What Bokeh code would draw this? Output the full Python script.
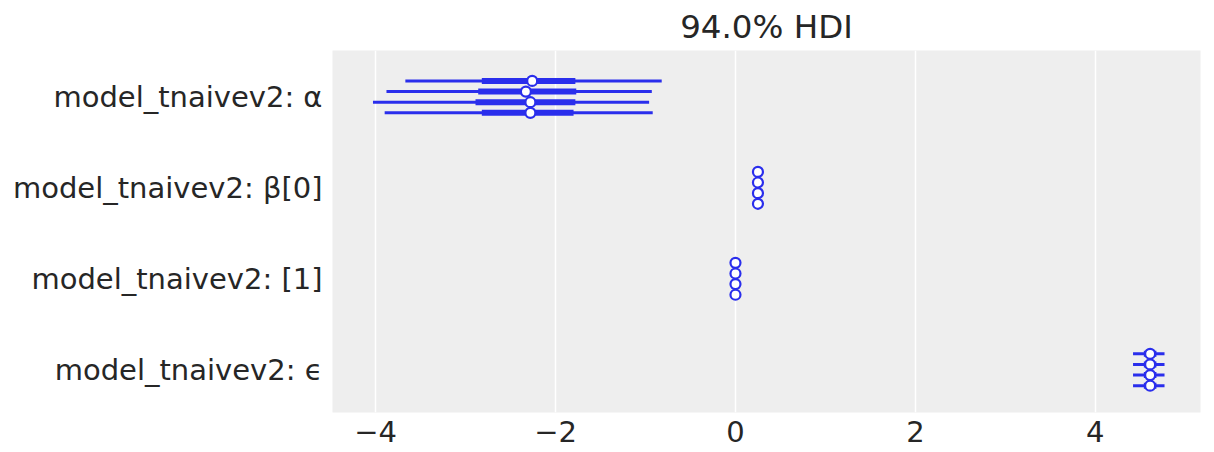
from bokeh.plotting import figure
from bokeh.models import Range1d, FixedTicker, ColumnDataSource
from bokeh.embed import file_html
from bokeh.resources import INLINE

# ---- data ----
labels = ["model_tnaivev2: α", "model_tnaivev2: β[0]", "model_tnaivev2: [1]", "model_tnaivev2: ϵ"]
x_ticks = [-4, -2, 0, 2, 4]
x_tick_labels = ["−4", "−2", "0", "2", "4"]
title_text = "94.0% HDI"

# per variable, 4 chains each
median = [
    [-2.26, -2.33, -2.28, -2.28],
    [0.25, 0.25, 0.25, 0.25],
    [0.0, 0.0, 0.0, 0.0],
    [4.61, 4.61, 4.61, 4.61],
]
hdi94_low = [
    [-3.67, -3.88, -4.03, -3.90],
    [0.22, 0.22, 0.22, 0.22],
    [-0.03, -0.03, -0.03, -0.03],
    [4.42, 4.42, 4.42, 4.42],
]
hdi94_high = [
    [-0.82, -0.93, -0.96, -0.92],
    [0.28, 0.28, 0.28, 0.28],
    [0.03, 0.03, 0.03, 0.03],
    [4.77, 4.77, 4.77, 4.77],
]
hdi50_low = [
    [-2.82, -2.86, -2.89, -2.82],
    [0.24, 0.24, 0.24, 0.24],
    [-0.01, -0.01, -0.01, -0.01],
    [4.54, 4.54, 4.54, 4.54],
]
hdi50_high = [
    [-1.78, -1.77, -1.78, -1.80],
    [0.26, 0.26, 0.26, 0.26],
    [0.01, 0.01, 0.01, 0.01],
    [4.68, 4.68, 4.68, 4.68],
]

BLUE = "#2a2eec"
TEXT = "#262626"
FONT = "DejaVu Sans"

n_var = len(labels)
chain_step = 0.117
ys, mids, l94, h94, l50, h50 = [], [], [], [], [], []
centers = []
for i in range(n_var):
    yc = n_var - 1 - i
    centers.append(yc)
    nch = len(median[i])
    for c in range(nch):
        y = yc + ((nch - 1) / 2 - c) * chain_step
        ys.append(y)
        mids.append(median[i][c])
        l94.append(hdi94_low[i][c])
        h94.append(hdi94_high[i][c])
        l50.append(hdi50_low[i][c])
        h50.append(hdi50_high[i][c])

src = ColumnDataSource(dict(y=ys, mid=mids, l94=l94, h94=h94, l50=l50, h50=h50))

p = figure(width=1206, height=450, output_backend="svg", toolbar_location=None,
           x_range=Range1d(-4.48, 5.17), y_range=Range1d(-0.47, 3.51),
           min_border_left=332, min_border_right=6, min_border_top=47, min_border_bottom=38)

p.background_fill_color = "#EEEEEE"
p.border_fill_color = "white"
p.outline_line_color = None

p.segment(x0="l94", x1="h94", y0="y", y1="y", source=src, line_color=BLUE, line_width=3)
p.segment(x0="l50", x1="h50", y0="y", y1="y", source=src, line_color=BLUE, line_width=6)
p.scatter(x="mid", y="y", source=src, size=10, fill_color="white", line_color=BLUE, line_width=2.2)

# title
p.title.text = title_text
p.title.align = "center"
p.title.text_font = FONT
p.title.text_font_size = "32.5px"
p.title.text_font_style = "normal"
p.title.text_color = TEXT
p.title.standoff = 10

# axes
p.xaxis.ticker = FixedTicker(ticks=x_ticks)
p.xaxis.major_label_overrides = {t: s for t, s in zip(x_ticks, x_tick_labels)}
p.yaxis.ticker = FixedTicker(ticks=centers)
p.yaxis.major_label_overrides = {c: l for c, l in zip(centers, labels)}
for ax in (p.xaxis[0], p.yaxis[0]):
    ax.axis_line_color = None
    ax.major_tick_line_color = None
    ax.minor_tick_line_color = None
    ax.major_label_text_font = FONT
    ax.major_label_text_font_size = "29px"
    ax.major_label_text_color = TEXT
p.xaxis.major_label_standoff = 2
p.yaxis.major_label_standoff = 4

p.xgrid.ticker = FixedTicker(ticks=x_ticks)
p.xgrid.grid_line_color = "white"
p.xgrid.grid_line_width = 1.5
p.ygrid.grid_line_color = None

open("out.html", "w").write(file_html(p, INLINE))
